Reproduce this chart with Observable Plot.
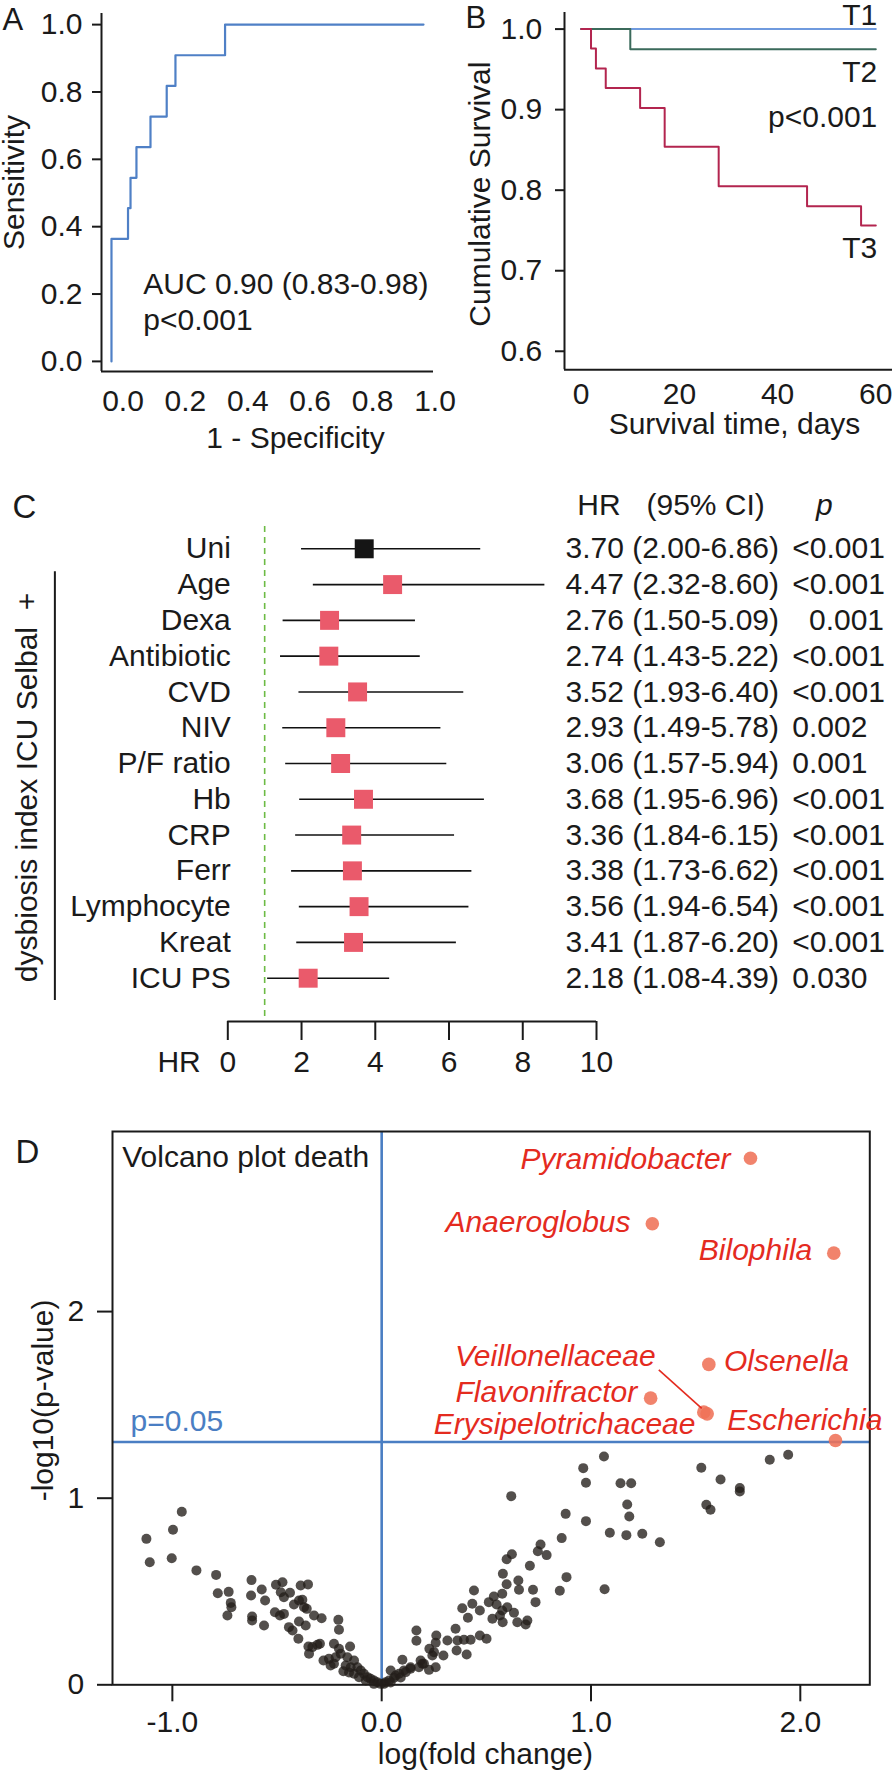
<!DOCTYPE html>
<html><head><meta charset="utf-8">
<script src="https://cdn.jsdelivr.net/npm/d3@7"></script>
<script src="https://cdn.jsdelivr.net/npm/@observablehq/plot@0.6"></script>
<style>
body{margin:0;background:#fff;}
#fig{position:relative;width:892px;height:1774px;background:#fff;}
#fig svg{position:absolute;}
</style></head><body><div id="fig"></div>
<script>
// ---------------- Panel A: ROC ----------------
const rocFPR = [0, 0, 0.053, 0.061, 0.080, 0.125, 0.177, 0.205, 0.364, 1.0];
const rocTPR = [0, 0.364, 0.455, 0.545, 0.636, 0.727, 0.818, 0.909, 1.0, 1.0];
const rocTicks = [0, 0.2, 0.4, 0.6, 0.8, 1.0];
const rocText = ["AUC 0.90 (0.83-0.98)", "p<0.001"];
const rocTextY = [0.201, 0.093];

// ---------------- Panel B: Kaplan-Meier ----------------
const t1Time = [0, 60], t1Surv = [1, 1];
const t2Time = [0, 10, 60], t2Surv = [1, 0.975, 0.975];
const t3Time = [0, 2, 3, 5, 12, 17, 28, 46, 57, 60];
const t3Surv = [1, 0.976, 0.951, 0.927, 0.902, 0.854, 0.805, 0.780, 0.756, 0.756];
const survTicksX = [0, 20, 40, 60];
const survTicksY = [0.6, 0.7, 0.8, 0.9, 1.0];
const survLabels = ["T1", "T2", "p<0.001", "T3"];
const survLabelY = [1.0050, 0.9338, 0.879, 0.7154];

// ---------------- Panel C: forest plot ----------------
const forestNames = ["Uni","Age","Dexa","Antibiotic","CVD","NIV","P/F ratio","Hb","CRP","Ferr","Lymphocyte","Kreat","ICU PS"];
const forestHR = [3.70,4.47,2.76,2.74,3.52,2.93,3.06,3.68,3.36,3.38,3.56,3.41,2.18];
const forestLo = [2.00,2.32,1.50,1.43,1.93,1.49,1.57,1.95,1.84,1.73,1.94,1.87,1.08];
const forestHi = [6.86,8.60,5.09,5.22,6.40,5.78,5.94,6.96,6.15,6.62,6.54,6.20,4.39];
const forestP = ["<0.001","<0.001","\u20070.001","<0.001","<0.001","0.002","0.001","<0.001","<0.001","<0.001","<0.001","<0.001","0.030"];
const hrTicks = [0, 2, 4, 6, 8, 10];
const forestHeader = ["HR", "(95% CI)"];

// ---------------- Panel D: volcano ----------------
const volcanoFC = [
 1.062,0.963,0.976,1.141,1.192,0.619,1.173,0.879,1.183,0.976,1.090,1.169,1.245,1.329,1.065,0.860,0.759,0.746,0.788,0.622,
 0.597,0.708,0.579,0.597,0.653,0.656,0.723,0.851,0.883,0.735,0.441,0.433,0.385,0.469,0.412,0.512,0.536,0.576,0.549,0.600,
 0.576,0.632,0.648,0.696,0.688,0.529,0.565,0.578,0.353,0.314,0.362,0.393,0.425,0.469,0.501,0.358,0.406,0.295,1.527,1.619,
 1.711,1.711,1.551,1.571,1.854,1.942,
 0.166,0.166,0.261,0.228,0.258,0.099,0.186,0.242,0.250,0.194,0.178,0.258,0.138,0.115,0.083,0.059,0.035,0.019,0.011,
 -1.124,-1.108,-0.997,-1.003,-0.955,-0.885,-0.791,-0.783,-0.731,-0.721,-0.718,-0.737,-0.622,-0.624,-0.573,-0.557,-0.619,-0.619,-0.562,-0.505,
 -0.474,-0.482,-0.467,-0.438,-0.510,-0.486,-0.467,-0.387,-0.352,-0.419,-0.395,-0.379,-0.371,-0.358,-0.323,-0.287,-0.443,-0.426,-0.395,-0.363,
 -0.398,-0.350,-0.331,-0.307,-0.295,-0.347,-0.278,-0.252,-0.244,-0.228,-0.207,-0.204,-0.151,-0.204,-0.196,-0.220,-0.183,-0.148,-0.132,-0.116,
 -0.100,-0.085,-0.068,-0.053,-0.037,-0.021,-0.005,
 -0.132,-0.108,-0.156,-0.172,-0.076,-0.037,-0.228,-0.164,0.138,0.202,0.106,0.226,0.043,0.067,0.091,0.043];
const volcanoP = [
 1.223,1.161,1.083,1.080,1.080,1.011,0.966,0.916,0.902,0.877,0.815,0.802,0.809,0.764,0.512,0.786,0.752,0.716,0.695,0.700,
 0.673,0.638,0.595,0.539,0.559,0.509,0.509,0.504,0.577,0.443,0.505,0.434,0.410,0.398,0.359,0.443,0.473,0.488,0.430,0.416,
 0.398,0.386,0.335,0.345,0.323,0.354,0.371,0.335,0.300,0.237,0.237,0.241,0.241,0.264,0.247,0.184,0.162,0.157,1.163,1.100,
 1.054,1.036,0.965,0.938,1.206,1.233,
 0.291,0.236,0.264,0.193,0.225,0.134,0.130,0.157,0.175,0.113,0.094,0.094,0.086,0.068,0.059,0.038,0.023,0.014,0.005,
 0.782,0.657,0.831,0.678,0.927,0.613,0.589,0.491,0.498,0.439,0.416,0.371,0.561,0.479,0.511,0.452,0.366,0.345,0.318,0.536,
 0.550,0.496,0.469,0.493,0.389,0.371,0.380,0.532,0.538,0.430,0.452,0.456,0.416,0.407,0.371,0.357,0.309,0.291,0.339,0.318,
 0.247,0.205,0.202,0.214,0.220,0.166,0.130,0.139,0.103,0.220,0.348,0.295,0.205,0.193,0.166,0.148,0.073,0.094,0.130,0.094,
 0.077,0.059,0.041,0.032,0.023,0.014,0.005,
 0.059,0.041,0.066,0.103,0.023,0.005,0.113,0.148,0.094,0.113,0.077,0.080,0.077,0.050,0.039,0.012];
const sigNames = ["Pyramidobacter","Anaeroglobus","Bilophila","Olsenella","Flavonifractor","Veillonellaceae","Erysipelotrichaceae","Escherichia"];
const sigFC = [1.762, 1.293, 2.160, 1.563, 1.285, 1.539, 1.555, 2.168];
const sigP  = [2.822, 2.471, 2.313, 1.717, 1.536, 1.461, 1.452, 1.309];
const sigLabelX = [1.667, 1.189, 2.057, 1.635, 1.221, 1.309, 1.499, 1.651];
const sigLabelY = [2.765, 2.425, 2.278, 1.681, 1.514, 1.711, 1.345, 1.363];
const sigAnchor = ["end","end","end","start","end","end","end","start"];
const volcTicksX = [-1, 0, 1, 2];
const volcTicksY = [0, 1, 2];
const pThreshold = 0.05;

// ---------------- drawing ----------------
const FONT = '"Liberation Sans", Arial, Helvetica, sans-serif';
const INK = "#1a1a1a";
const style = {fontFamily: FONT, fontSize: "30px", background: "transparent", overflow: "visible", color: INK};
const fig = document.getElementById("fig");
function place(svg, left, top) { svg.style.left = left + "px"; svg.style.top = top + "px"; fig.appendChild(svg); }

// Panel A
const rocData = rocFPR.map((x, i) => ({x, y: rocTPR[i]}));
const plotA = Plot.plot({
  width: 445, height: 460, marginLeft: 101, marginRight: 12, marginTop: 13, marginBottom: 89, style,
  x: {domain: [-0.032, 1.032]}, y: {domain: [-0.03, 1.033]},
  marks: [
    Plot.axisY(rocTicks, {tickSize: 9, tickPadding: 10, strokeWidth: 2, tickFormat: d => d.toFixed(1), label: null}),
    Plot.axisX(rocTicks, {tickSize: 0, tickPadding: 18, tickFormat: () => "", label: null}),
    Plot.text(rocTicks, {x: d => d, frameAnchor: "bottom", text: d => d.toFixed(1), textAnchor: "middle", dx: 11.5, dy: 39, lineAnchor: "bottom"}),
    Plot.ruleX([-0.032], {stroke: INK, strokeWidth: 2}),
    Plot.ruleY([-0.03], {stroke: INK, strokeWidth: 2}),
    Plot.line(rocData, {x: "x", y: "y", curve: "step-after", stroke: "#4f80c6", strokeWidth: 2.2}),
    Plot.text(rocText, {x: 0.102, y: (d, i) => rocTextY[i], textAnchor: "start", lineAnchor: "bottom"}),
    Plot.text(["Sensitivity"], {frameAnchor: "left", textAnchor: "middle", rotate: -90, dx: -87, dy: -10}),
    Plot.text(["1 - Specificity"], {frameAnchor: "bottom", textAnchor: "middle", lineAnchor: "bottom", dx: 28, dy: 76}),
    Plot.text(["A"], {frameAnchor: "top-left", textAnchor: "start", lineAnchor: "bottom", dx: -99, dy: 16, fontSize: 31})
  ]
});
place(plotA, 0, 0);

// Panel B
const mk = (T, S) => T.map((t, i) => ({t, s: S[i]}));
const plotB = Plot.plot({
  width: 446, height: 460, marginLeft: 118, marginRight: 0, marginTop: 12, marginBottom: 90.7, style,
  x: {domain: [-3.4, 63.4]}, y: {domain: [0.577, 1.0206]},
  marks: [
    Plot.axisY(survTicksY, {tickSize: 9, tickPadding: 13.3, strokeWidth: 2, tickFormat: d => d.toFixed(1), label: null}),
    Plot.axisX(survTicksX, {tickSize: 0, tickPadding: 12.7, tickFormat: d => String(d), label: null}),
    Plot.ruleX([-3.4], {stroke: INK, strokeWidth: 2}),
    Plot.ruleY([0.577], {stroke: INK, strokeWidth: 2}),
    Plot.line(mk(t1Time, t1Surv), {x: "t", y: "s", curve: "step-after", stroke: "#6f9ade", strokeWidth: 2}),
    Plot.line(mk(t2Time, t2Surv), {x: "t", y: "s", curve: "step-after", stroke: "#3b6a5b", strokeWidth: 2}),
    Plot.line(mk(t3Time, t3Surv), {x: "t", y: "s", curve: "step-after", stroke: "#b3254f", strokeWidth: 2}),
    Plot.text(survLabels, {x: 60.3, y: (d, i) => survLabelY[i], textAnchor: "end", lineAnchor: "bottom"}),
    Plot.text(["Cumulative Survival"], {frameAnchor: "left", textAnchor: "middle", rotate: -90, dx: -84, dy: 3}),
    Plot.text(["Survival time, days"], {frameAnchor: "bottom", textAnchor: "middle", lineAnchor: "bottom", dx: 6, dy: 63.7}),
    Plot.text(["B"], {frameAnchor: "top-left", textAnchor: "start", lineAnchor: "bottom", dx: -99, dy: 15, fontSize: 31})
  ]
});
place(plotB, 446, 0);

// Panel C
const forest = forestNames.map((name, i) => ({name, i, hr: forestHR[i], lo: forestLo[i], hi: forestHi[i], p: forestP[i]}));
const yMaxC = 13.21;
const plotC = Plot.plot({
  width: 892, height: 630, marginLeft: 227.3, marginRight: 296, marginTop: 66, marginBottom: 69, style,
  x: {domain: [0, 10]}, y: {domain: [-0.623, yMaxC], reverse: true, axis: null},
  marks: [
    Plot.ruleX([1], {stroke: "#6dbb45", strokeWidth: 1.6, strokeDasharray: "6,5"}),
    Plot.axisX(hrTicks, {tickSize: 19, tickPadding: 10.4, strokeWidth: 2, tickFormat: d => String(d), label: null}),
    Plot.ruleY([yMaxC], {x1: 0, x2: 10, stroke: INK, strokeWidth: 2}),
    Plot.text(["HR"], {x: 0, y: yMaxC, textAnchor: "end", lineAnchor: "bottom", dx: -27, dy: 50.7}),
    Plot.ruleY(forest, {y: "i", x1: "lo", x2: "hi", stroke: "#111", strokeWidth: 1.6}),
    Plot.dot(forest.filter(d => d.i > 0), {x: "hr", y: "i", symbol: "square", r: 10.7, fill: "#ea5a6b", stroke: "none"}),
    Plot.dot(forest.filter(d => d.i === 0), {x: "hr", y: "i", symbol: "square", r: 10.7, fill: "#151515", stroke: "none"}),
    Plot.text(forest, {x: 0, y: "i", text: "name", textAnchor: "end", dx: 3}),
    Plot.text(forest, {x: 9.16, y: "i", text: d => `${d.hr.toFixed(2)} (${d.lo.toFixed(2)}-${d.hi.toFixed(2)})`, textAnchor: "start"}),
    Plot.text(forest, {x: 15.31, y: "i", text: "p", textAnchor: "start"}),
    Plot.text(forestHeader, {x: (d, i) => [9.477, 11.356][i], y: -1.2, textAnchor: "start"}),
    Plot.text(["p"], {x: 16.18, y: -1.2, textAnchor: "middle", fontStyle: "italic"}),
    Plot.ruleX([-4.69], {y1: 0.64, y2: 12.62, stroke: INK, strokeWidth: 2}),
    Plot.text(["dysbiosis index ICU Selbal\u00a0\u00a0+"], {x: -5.43, y: 6.67, textAnchor: "middle", rotate: -90}),
    Plot.text(["C"], {frameAnchor: "top-left", textAnchor: "start", lineAnchor: "bottom", dx: -215.3, dy: -9, fontSize: 33})
  ]
});
place(plotC, 0, 460);

// Panel D
const nV = Math.min(volcanoFC.length, volcanoP.length);
const volc = d3.range(nV).map(i => ({fc: volcanoFC[i], p: volcanoP[i]}));
const sig = sigNames.map((name, i) => ({name, fc: sigFC[i], p: sigP[i], lx: sigLabelX[i], ly: sigLabelY[i], a: sigAnchor[i]}));
const thr = -Math.log10(pThreshold);
const vi = sigNames.indexOf("Veillonellaceae");
const BLUE = "#4a7ec3", RED = "#e42b1f";
const plotD = Plot.plot({
  width: 892, height: 684, marginLeft: 112, marginRight: 22.7, marginTop: 41, marginBottom: 89.7, style,
  x: {domain: [-1.286, 2.332]}, y: {domain: [0, 2.965]},
  marks: [
    Plot.axisY(volcTicksY, {tickSize: 15, tickPadding: 13.4, strokeWidth: 2, tickFormat: d => String(d), label: null}),
    Plot.axisX(volcTicksX, {tickSize: 17, tickPadding: 9.1, strokeWidth: 2, tickFormat: d => d.toFixed(1), label: null}),
    Plot.ruleX([0], {stroke: BLUE, strokeWidth: 2.6}),
    Plot.ruleY([thr], {stroke: BLUE, strokeWidth: 2.6}),
    Plot.frame({stroke: INK, strokeWidth: 2}),
    Plot.dot(volc, {x: "fc", y: "p", r: 5, fill: "#231e1a", fillOpacity: 0.78, stroke: "none"}),
    Plot.dot(sig, {x: "fc", y: "p", r: 6.8, fill: "#ef7258", fillOpacity: 0.88, stroke: "none"}),
    Plot.link([sig[vi]], {x1: d => d.lx + 0.015, y1: d => d.ly - 0.023, x2: d => d.fc - 0.01, y2: d => d.p + 0.02, stroke: RED, strokeWidth: 1.6}),
    Plot.text(sig.filter(d => d.a === "end"), {x: "lx", y: "ly", text: "name", textAnchor: "end", lineAnchor: "bottom", fill: RED, fontStyle: "italic"}),
    Plot.text(sig.filter(d => d.a === "start"), {x: "lx", y: "ly", text: "name", textAnchor: "start", lineAnchor: "bottom", fill: RED, fontStyle: "italic"}),
    Plot.text(["p=0.05"], {x: -1.2, y: thr, textAnchor: "start", lineAnchor: "bottom", dy: -11.3, fill: BLUE}),
    Plot.text(["Volcano plot death"], {frameAnchor: "top-left", textAnchor: "start", lineAnchor: "bottom", dx: 9.7, dy: 35.7}),
    Plot.text(["-log10(p-value)"], {frameAnchor: "left", textAnchor: "middle", rotate: -90, dx: -69, dy: -7.7}),
    Plot.text(["log(fold change)"], {frameAnchor: "bottom", textAnchor: "middle", lineAnchor: "bottom", dx: -5.7, dy: 78.7}),
    Plot.text(["D"], {frameAnchor: "top-left", textAnchor: "start", lineAnchor: "bottom", dx: -97, dy: 31, fontSize: 33})
  ]
});
place(plotD, 0, 1090);
</script>
</body></html>
